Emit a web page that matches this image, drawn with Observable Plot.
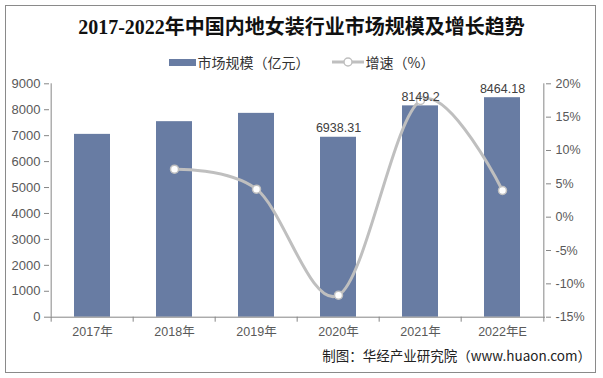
<!DOCTYPE html>
<html><head><meta charset="utf-8">
<script src="https://cdn.jsdelivr.net/npm/d3@7"></script>
<script src="https://cdn.jsdelivr.net/npm/@observablehq/plot@0.6"></script>
<style>
body{margin:0;background:#fff;}
#wrap{position:relative;width:603px;height:378px;overflow:hidden;font-family:"Liberation Sans",Arial,"Noto Sans CJK SC",sans-serif;}
#frame{position:absolute;left:5px;top:5px;width:591px;height:368px;border:1px solid #8a8a8a;box-sizing:border-box;}
#title{position:absolute;left:0;top:13px;width:603px;text-align:center;font-family:"Liberation Serif","Noto Sans CJK SC",serif;font-weight:bold;font-size:20px;line-height:28px;color:#111;}
#legend{position:absolute;left:0;top:53px;width:603px;display:flex;justify-content:center;align-items:center;font-family:"Noto Sans CJK SC",sans-serif;font-size:14px;line-height:18px;color:#333;}
#legend .sw{display:inline-block;width:27px;height:7px;background:#687ca3;margin-right:2px;}
#legend svg{margin-left:22px;margin-right:2px;}
#chart{position:absolute;left:0;top:65px;}
#caption{position:absolute;right:12px;top:345px;font-family:"Noto Sans CJK SC",sans-serif;font-size:13.5px;line-height:20px;color:#222;}
</style></head>
<body>
<div id="wrap">
  <div id="frame"></div>
  <div id="title">2017-2022年中国内地女装行业市场规模及增长趋势</div>
  <div id="legend"><span class="sw"></span><span>市场规模（亿元）</span>
    <svg width="32" height="10"><line x1="0" y1="5" x2="32" y2="5" stroke="#bfbfbf" stroke-width="3"/><circle cx="16" cy="5" r="4" fill="#fff" stroke="#bfbfbf" stroke-width="1.5"/></svg><span>增速（%）</span></div>
  <div id="chart"></div>
  <div id="caption">制图：华经产业研究院（www.huaon.com）</div>
</div>
<script>
const years = ["2017年","2018年","2019年","2020年","2021年","2022年E"];
const marketSize = [7050, 7540, 7860, 6938.31, 8149.2, 8464.18];
const growthYears = ["2018年","2019年","2020年","2021年","2022年E"];
const growth = [7.2, 4.2, -11.7, 17.5, 4.0];
const labeledYears = ["2020年","2021年","2022年E"];
const labelTexts = ["6938.31","8149.2","8464.18"];
const leftTicks = [0,1000,2000,3000,4000,5000,6000,7000,8000,9000];
const rightTicks = [-15,-10,-5,0,5,10,15,20];

const yMax = 9000, gMin = -15, gMax = 20;
const toY = g => (g - gMin) / (gMax - gMin) * yMax;
const fromY = v => Math.round(v / yMax * (gMax - gMin) + gMin);

const bars = years.map((y,i) => ({year:y, value:marketSize[i]}));
const line = growthYears.map((y,i) => ({year:y, g:growth[i]}));
const labels = labeledYears.map((y,i) => ({year:y, value:marketSize[years.indexOf(y)], text:labelTexts[i]}));

const W = 603, H = 285, mL = 49, mR = 58;
const step = (W - mL - mR) / years.length;
const axisColor = "#868686", textColor = "#595959";

const chart = Plot.plot({
  width: W, height: H,
  marginLeft: mL, marginRight: mR, marginTop: 18.3, marginBottom: 33.3,
  style: {fontFamily: '"Liberation Sans", Arial, "Noto Sans CJK SC", sans-serif', background: "transparent"},
  x: {domain: years, paddingInner: 0.556, paddingOuter: 0.278, label: null},
  y: {domain: [0, yMax], label: null},
  marks: [
    Plot.barY(bars, {x: "year", y: "value", fill: "#687ca3"}),
    Plot.ruleY([0], {stroke: axisColor}),
    Plot.ruleX(years, {x: d => d, y1: 0, y2: 0, insetBottom: -5, dx: -step/2, stroke: axisColor}),
    Plot.ruleX([years[years.length-1]], {x: d => d, y1: 0, y2: 0, insetBottom: -5, dx: step/2, stroke: axisColor}),
    Plot.ruleX([years[0]], {x: d => d, y1: 0, y2: yMax, dx: -step/2, stroke: axisColor}),
    Plot.ruleX([years[years.length-1]], {x: d => d, y1: 0, y2: yMax, dx: step/2, stroke: axisColor}),
    Plot.axisY({anchor: "left", ticks: leftTicks, tickFormat: d => String(d), tickSize: 5, tickPadding: 4, fontSize: 13, stroke: axisColor, fill: textColor, label: null}),
    Plot.axisY({anchor: "right", ticks: rightTicks.map(toY), tickFormat: d => fromY(d) + "%", tickSize: 5, tickPadding: 5, fontSize: 12.5, stroke: axisColor, fill: textColor, label: null}),
    Plot.axisX({anchor: "bottom", tickSize: 0, tickPadding: 10, fontSize: 12.5, fill: textColor, label: null}),
    Plot.line(line, {x: "year", y: d => toY(d.g), curve: "cardinal", tension: 0, stroke: "#bfbfbf", strokeWidth: 3}),
    Plot.dot(line, {x: "year", y: d => toY(d.g), r: 4, fill: "white", stroke: "#bfbfbf", strokeWidth: 1.5}),
    Plot.text(labels, {x: "year", y: "value", text: "text", lineAnchor: "bottom", dy: -5, fontSize: 12.5, fill: "#404040"})
  ]
});
document.getElementById("chart").appendChild(chart);
</script>
</body></html>
